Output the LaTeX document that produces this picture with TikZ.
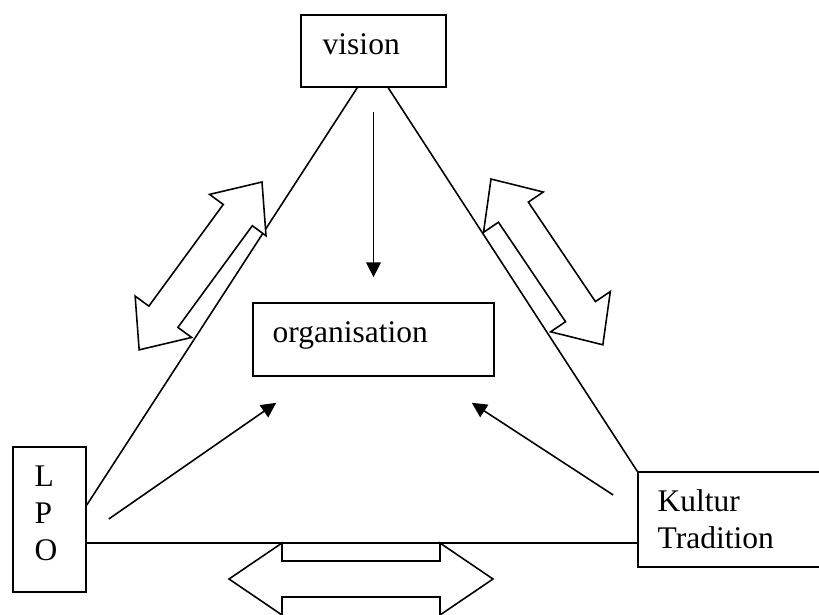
\documentclass[tikz,border=0pt]{standalone}
\usepackage{fontspec}
\setmainfont{Liberation Serif}
\usetikzlibrary{arrows.meta,calc}

% outline of a two-headed block arrow: length, head length, head half width, body half width
\newcommand{\dblarrow}[4]{(0,0) -- (#2,#3) -- (#2,#4) -- ({#1-#2},#4) -- ({#1-#2},#3) -- (#1,0)
  -- ({#1-#2},-#3) -- ({#1-#2},-#4) -- (#2,-#4) -- (#2,-#3) -- cycle}

\begin{document}
\begin{tikzpicture}[x=0.381pt, y=-0.381pt,
  box/.style={draw, line width=0.6pt, inner sep=0pt},
  txt/.style={anchor=base west, inner sep=0pt, align=left, font=\fontsize{12}{14.1}\selectfont},
  side/.style={line width=0.6pt},
  arr/.style={line width=0.6pt, -{Triangle[length=5.7pt, width=5.6pt]}},
  dbl/.style={draw, line width=0.6pt, fill=white, line join=miter}
]
  \clip (0,0) rectangle (819,614);

  % boxes
  \node[box, minimum width=145*0.381pt, minimum height=72*0.381pt] (vision) at (373.5,51) {};
  \node[box, minimum width=241*0.381pt, minimum height=73*0.381pt] (organisation) at (373.5,339.5) {};
  \node[box, minimum width=73*0.381pt, minimum height=145*0.381pt] (lpo) at (49.5,519.5) {};
  \node[box, minimum width=222*0.381pt, minimum height=95*0.381pt] (kultur) at (749,519.5) {};

  % texts (base anchor sits on the last line)
  \node[txt] (visiontxt) at ($(vision.north west)+(22,40)$) {vision};
  \node[txt] (orgtxt) at ($(organisation.north west)+(20,40)$) {organisation};
  \node[txt] (lpotxt) at ($(lpo.north west)+(22,114)$) {L\\P\\O};
  \node[txt] (kulturtxt) at ($(kultur.north west)+(20,77)$) {Kultur\\Tradition};

  % triangle
  \coordinate (vl) at ($(vision.south west)+(57,0)$);
  \coordinate (vr) at ($(vision.south west)+(88,0)$);
  \draw[side] (vl) -- ($(lpo.east)+(0,-14.5)$);
  \draw[side] (vr) -- (kultur.north west);
  \draw[side] ($(lpo.east)+(0,23.5)$) -- ($(kultur.west)+(0,23.5)$);

  % arrows into the organisation
  \draw[arr] ($(vision.south)+(0,24)$) -- ($(organisation.north)+(0,-25)$);
  \draw[arr] ($(lpo.east)+(22,-0.5)$) -- ($(organisation.south west)+(24,26)$);
  \draw[arr] ($(kultur.west)+(-24,-24.5)$) -- ($(organisation.south east)+(-23,26)$);

  % block arrows along the sides
  \draw[dbl, shift={(262,182)}, rotate=233.8] \dblarrow{208}{41}{35}{18};
  \draw[dbl, shift={(491,179)}, rotate=304] \dblarrow{200}{40}{36}{18};
  \draw[dbl, shift={(229,579)}] \dblarrow{264}{53}{36}{18};
\end{tikzpicture}
\end{document}
